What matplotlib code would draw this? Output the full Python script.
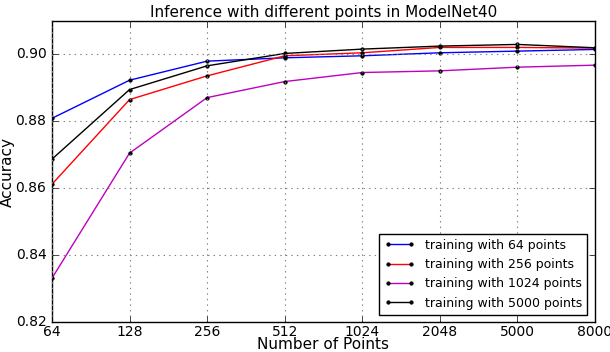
import matplotlib
matplotlib.use('Agg')
import matplotlib.pyplot as plt

plt.style.use('classic')
plt.rcParams.update({
    'figure.facecolor': 'white',
    'savefig.facecolor': 'white',
    'font.family': 'DejaVu Sans',
    'font.size': 11,
})

test_points = ['64', '128', '256', '512', '1024', '2048', '5000', '8000']
acc_64 = [0.8809, 0.8923, 0.8980, 0.8990, 0.8996, 0.9005, 0.9010, 0.9015]
acc_256 = [0.8612, 0.8865, 0.8936, 0.8996, 0.9005, 0.9021, 0.9021, 0.9019]
acc_1024 = [0.8331, 0.8705, 0.8871, 0.8919, 0.8946, 0.8951, 0.8962, 0.8968]
acc_5000 = [0.8687, 0.8895, 0.8966, 0.9003, 0.9016, 0.9025, 0.9030, 0.9020]

series = [
    ('training with 64 points', acc_64, 'b'),
    ('training with 256 points', acc_256, 'r'),
    ('training with 1024 points', acc_1024, 'm'),
    ('training with 5000 points', acc_5000, 'k'),
]

fig = plt.figure(figsize=(6.1, 3.52), dpi=100)
ax = fig.add_axes([0.0852, 0.0852, 0.8902, 0.8551])

x = range(len(test_points))
for label, vals, c in series:
    ax.plot(x, vals, '-', marker='.', color=c, linewidth=1, markersize=5,
            markeredgecolor='k', markerfacecolor='k', label=label)

ax.set_xlim(0, len(test_points) - 1)
ax.set_ylim(0.82, 0.91)
ax.set_xticks(list(x))
ax.set_xticklabels(test_points)
ax.set_yticks([0.82, 0.84, 0.86, 0.88, 0.90])
ax.set_yticklabels(['0.82', '0.84', '0.86', '0.88', '0.90'])
ax.tick_params(labelsize=10)
ax.tick_params(axis='x', pad=2)
ax.grid(True, color='gray', linestyle=':', linewidth=0.8)
ax.set_xlabel('Number of Points', fontsize=11, labelpad=-1)
ax.set_ylabel('Accuracy', fontsize=11)
ax.yaxis.set_label_coords(-0.068, 0.5)
ax.set_title('Inference with different points in ModelNet40', fontsize=11, pad=3)
ax.legend(loc='lower right', fontsize=9, numpoints=2, handlelength=2.5,
          frameon=True, fancybox=False, borderaxespad=0.6)

plt.savefig('out.png', dpi=100)
plt.close()
